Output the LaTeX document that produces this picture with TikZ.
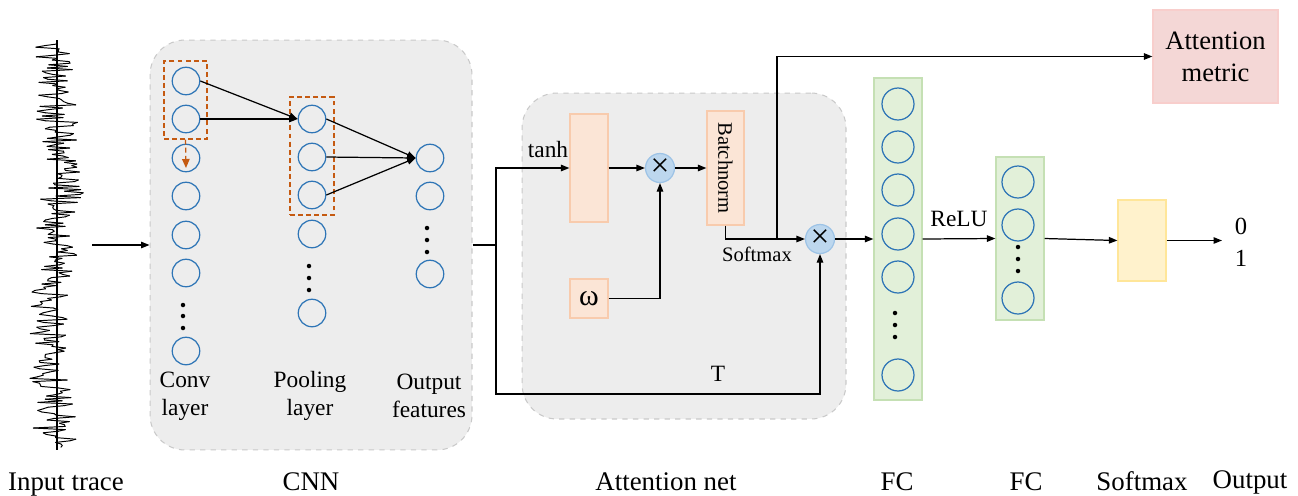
\documentclass[tikz,border=0pt]{standalone}
\usepackage{fontspec}
\setmainfont{Liberation Serif}
\usetikzlibrary{arrows.meta}
\definecolor{nodeblue}{HTML}{2E75B6}
\definecolor{grayfill}{HTML}{EDEDED}
\definecolor{grayline}{HTML}{C9C9C9}
\definecolor{peachfill}{HTML}{FBE5D6}
\definecolor{peachline}{HTML}{F8CBAD}
\definecolor{mulfill}{HTML}{BDD7EE}
\definecolor{mulline}{HTML}{9DC3E6}
\definecolor{greenfill}{HTML}{E2F0D9}
\definecolor{greenline}{HTML}{C5E0B4}
\definecolor{yellowfill}{HTML}{FFF2CC}
\definecolor{yellowline}{HTML}{FFE699}
\definecolor{pinkfill}{HTML}{F4D7D6}
\definecolor{pinkline}{HTML}{F8CECC}
\definecolor{orangedash}{HTML}{C55A11}
\tikzset{
  neuron/.style={circle, draw=nodeblue, line width=0.7pt, minimum size=0.55cm, inner sep=0pt},
  bigneuron/.style={circle, draw=nodeblue, line width=0.7pt, minimum size=0.64cm, inner sep=0pt},
  dotmark/.style={circle, fill=black, minimum size=0.09cm, inner sep=0pt},
  conn/.style={line width=0.7pt, -{Triangle[length=1.7mm,width=1.3mm]}},
  plainline/.style={line width=0.7pt},
  panel/.style={draw=grayline, dashed, fill=grayfill, rounded corners=0.7cm, line width=0.6pt, inner sep=0pt},
  orangebox/.style={draw=orangedash, dash pattern=on 2.8pt off 1.8pt, line width=0.7pt, inner sep=0pt},
  peachbox/.style={draw=peachline, fill=peachfill, line width=0.7pt, inner sep=0pt},
  mulnode/.style={circle, draw=mulline, fill=mulfill, line width=0.7pt, minimum size=0.58cm, inner sep=0pt, font=\fontsize{19pt}{20pt}\selectfont},
  greenbox/.style={draw=greenline, fill=greenfill, line width=0.7pt, inner sep=0pt, minimum width=0.96cm},
  lab/.style={font=\fontsize{13.3pt}{16pt}\selectfont, align=center, inner sep=0pt},
  smalllab/.style={font=\fontsize{11.7pt}{14pt}\selectfont, inner sep=0pt},
  biglab/.style={font=\fontsize{15.3pt}{18pt}\selectfont, inner sep=0pt, anchor=base},
}
\begin{document}
\begin{tikzpicture}[x=0.02cm, y=-0.02cm]
\useasboundingbox (0,0) rectangle (1298,495);

% ---- input trace ----
\draw[line width=0.6pt] (57,40) -- (57,450);
\pgfmathsetseed{1234}
\gdef\prevx{57}\gdef\drift{0}
\foreach \i in {1,...,252} {
  \pgfmathsetmacro\d{max(-10,min(10,\drift+3*rand))}
  \pgfmathsetmacro\nx{max(17,min(88,57+\d+17*rand+16*rand*rand*rand))}
  \draw[line width=0.55pt, line cap=round] (\prevx,{44+1.6*(\i-1)}) -- (\nx,{44+1.6*\i});
  \global\let\prevx\nx \global\let\drift\d
}
\coordinate (traceout) at (92,245);

% ---- panels ----
\node[panel, minimum width=6.44cm, minimum height=8.2cm] (cnn) at (311,245) {};
\node[panel, minimum width=6.48cm, minimum height=6.52cm] (att) at (684,256) {};

% ---- CNN neurons ----
\foreach \n/\y in {1/81,2/119,3/158,4/196,5/235,6/273,7/351}
  \node[neuron] (c\n) at (186,\y) {};
\foreach \y in {305,316,328} \node[dotmark] at (183,\y) {};
\foreach \n/\y in {1/119,2/157,3/195,4/234,5/313}
  \node[neuron] (p\n) at (312,\y) {};
\foreach \y in {266,278,290} \node[dotmark] at (309,\y) {};
\foreach \n/\y in {1/158,2/196,3/274}
  \node[neuron] (o\n) at (430,\y) {};
\foreach \y in {228,240,252} \node[dotmark] at (427,\y) {};

\node[orangebox, minimum width=0.86cm, minimum height=1.56cm] (d1) at (185.5,100) {};
\node[orangebox, minimum width=0.88cm, minimum height=2.36cm] (d2) at (312,156) {};
\draw[orangedash, dash pattern=on 2.8pt off 1.8pt, line width=0.7pt, -{Triangle[length=1.8mm,width=1.5mm]}] (d1.south) -- ([yshift=-0.2cm]c3.center);

\draw[conn] (c1.east) -- (p1.west);
\draw[conn] (c2.east) -- (p1.west);
\draw[conn] (p1.east) -- (o1.west);
\draw[conn] (p2.east) -- (o1.west);
\draw[conn] (p3.east) -- (o1.west);

\node[lab] at (185,396) {Conv\\layer};
\node[lab] at (310,396) {Pooling\\layer};
\node[lab] at (429,396) {Output\\features};

\draw[conn] (traceout) -- (cnn.west);

% ---- attention net ----
\node[peachbox, minimum width=0.76cm, minimum height=2.16cm] (tanh) at (589,168) {};
\node[peachbox, minimum width=0.76cm, minimum height=0.78cm, font=\fontsize{17pt}{18pt}\selectfont] (omega) at (589,298.5) {ω};
\node[peachbox, minimum width=0.74cm, minimum height=2.28cm] (bn) at (725.5,168) {};
\node[rotate=-90, font=\fontsize{11.7pt}{14pt}\selectfont, inner sep=0pt] at (bn.center) {Batchnorm};
\node[mulnode] (m1) at (660,168) {×};
\node[mulnode] (m2) at (820,239) {×};

\coordinate (j) at (496,245);
\coordinate (tb) at (496,394);
\draw[plainline] (cnn.east) -- (j);
\draw[conn] (j) |- (tanh.west);
\draw[conn] (j) -- (tb) -| (m2.south);
\draw[conn] (tanh.east) -- (m1.west);
\draw[conn] (omega.east) -| (m1.south);
\draw[conn] (m1.east) -- (bn.west);
\draw[conn] (bn.south) |- (m2.west);

\node[lab, anchor=base] at (548,157) {tanh};
\node[smalllab] at (757,254) {Softmax};
\node[lab] at (718,374) {T};

% ---- attention metric ----
\node[draw=pinkline, fill=pinkfill, line width=0.7pt, minimum width=2.5cm, minimum height=1.86cm, align=center, font=\fontsize{15.1pt}{18.1pt}\selectfont] (am) at (1215.5,56.5) {Attention\\metric};
\coordinate (split) at (777,239);
\draw[conn] (split) |- (am.west);

% ---- FC layers ----
\node[greenbox, minimum height=6.44cm] (fc1) at (898,239) {};
\foreach \n/\y in {1/104,2/147,3/190,4/234,5/277,6/375}
  \node[bigneuron] (f\n) at (898,\y) {};
\foreach \y in {313,325,337} \node[dotmark] at (895,\y) {};

\node[greenbox, minimum height=3.26cm] (fc2) at (1020,238.5) {};
\foreach \n/\y in {1/182,2/225,3/298}
  \node[bigneuron] (g\n) at (1018,\y) {};
\foreach \y in {247,259,271} \node[dotmark] at (1018,\y) {};

\node[draw=yellowline, fill=yellowfill, line width=0.7pt, minimum width=0.96cm, minimum height=1.62cm] (sm) at (1142,240.5) {};

\draw[conn] (m2.east) -- (fc1.west |- m2.east);
\draw[conn] (fc1.east) -- (fc2.west);
\node[lab] at (959,219) {ReLU};
\draw[conn] (fc2.east) -- (sm.west);
\coordinate (outp) at (1222,240.5);
\draw[conn] (sm.east) -- (outp);
\node[font=\fontsize{14pt}{16pt}\selectfont, inner sep=0pt] (out0) at (1241,226) {0};
\node[font=\fontsize{14pt}{16pt}\selectfont, inner sep=0pt] (out1) at (1241,258) {1};

% ---- bottom labels ----
\node[biglab] at (66,490) {Input trace};
\node[biglab] at (311,490) {CNN};
\node[biglab] at (666,490) {Attention net};
\node[biglab] at (897,490) {FC};
\node[biglab] at (1026,490) {FC};
\node[biglab] at (1142,490) {Softmax};
\node[biglab] at (1250,488) {Output};
\end{tikzpicture}
\end{document}
